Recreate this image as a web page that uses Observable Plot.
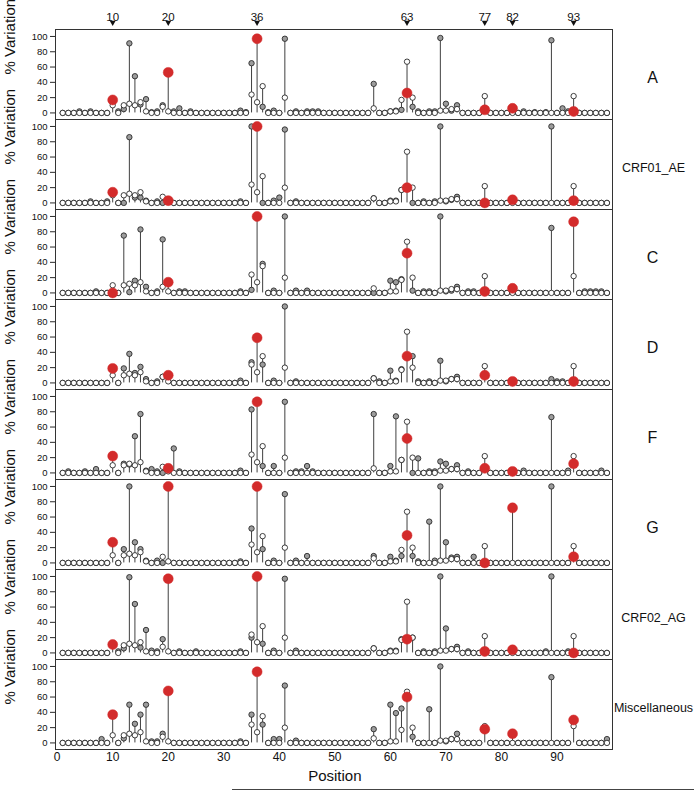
<!DOCTYPE html>
<html><head><meta charset="utf-8">
<script src="https://cdn.jsdelivr.net/npm/d3@7"></script>
<script src="https://cdn.jsdelivr.net/npm/@observablehq/plot@0.6"></script>
<style>
body{margin:0;background:#fff;}
#chart{position:relative;width:694px;height:792px;}
.deco{position:absolute;left:232px;top:789px;width:462px;height:1px;background:#444;}
</style>
</head><body><div id="chart"></div>
<script>
const panels = ["A", "CRF01_AE", "C", "D", "F", "G", "CRF02_AG", "Miscellaneous"];
const positions = d3.range(1, 100);
const keyPositions = [10, 20, 36, 63, 77, 82, 93];
const xTicks = [0, 10, 20, 30, 40, 50, 60, 70, 80, 90];
const yTicks = [0, 20, 40, 60, 80, 100];

// open circles (reference), positions 1..99
const reference = [
  0,0,0,0,0,0,0,0,0,10,
  0,10,12,10,14,2,0,0,8,2,
  0,0,0,0,0,0,0,0,0,0,
  0,0,0,0,24,14,35,0,0,0,
  20,0,0,0,0,0,0,0,0,0,
  0,0,0,0,0,0,6,0,0,2,
  2,17,67,20,0,0,0,0,3,3,
  5,5,0,0,0,0,22,0,0,0,
  0,0,0,0,0,0,0,0,0,0,
  0,0,22,0,0,0,0,0,0
];

const valuesA = [
  0,0,0,2,0,2,0,0,0,17,
  2,5,91,48,11,18,1,2,10,53,
  2,6,0,2,0,0,0,0,0,0,
  0,0,3,1,65,97,8,1,3,0,
  97,0,2,0,2,2,2,0,0,0,
  0,0,0,0,0,0,38,0,0,2,
  3,4,26,8,2,0,2,2,98,12,
  3,10,0,0,0,0,4,0,0,0,
  0,6,0,2,0,1,0,1,95,0,
  6,2,2,0,0,0,0,0,0
];
const valuesCRF01_AE = [
  0,0,0,0,0,2,0,0,2,14,
  0,0,86,7,7,3,0,2,0,3,
  0,0,0,0,0,0,0,0,0,0,
  0,0,2,0,100,100,0,0,3,7,
  96,0,2,0,0,0,0,0,0,0,
  0,0,0,0,0,0,6,0,0,3,
  3,17,20,0,0,2,0,2,100,2,
  4,8,0,0,0,0,0,0,0,0,
  0,4,0,0,0,0,0,0,100,0,
  0,0,3,0,0,0,0,0,0
];
const valuesC = [
  0,0,0,0,0,0,2,0,0,0,
  0,75,1,16,83,8,0,2,70,14,
  0,2,2,0,0,0,0,0,0,0,
  0,0,2,0,4,100,38,0,3,0,
  100,0,3,0,3,0,0,0,0,0,
  0,0,0,0,0,0,0,0,0,16,
  14,18,52,3,0,2,2,0,100,2,
  3,8,0,2,2,0,2,0,0,0,
  0,6,0,0,0,0,0,0,85,0,
  0,0,93,0,2,2,2,2,0
];
const valuesD = [
  0,0,0,0,0,0,0,0,0,19,
  0,19,38,13,21,5,0,2,8,10,
  0,0,0,0,0,0,0,0,0,0,
  0,0,3,0,27,59,24,0,3,0,
  100,0,2,0,0,0,0,0,0,0,
  0,0,0,0,0,0,6,2,0,16,
  3,18,35,35,2,0,2,0,29,2,
  5,8,0,0,0,0,10,0,0,0,
  0,2,0,0,0,0,0,0,5,2,
  2,0,2,0,0,0,0,0,0
];
const valuesF = [
  0,2,0,0,2,0,5,0,0,22,
  0,12,11,48,77,3,5,2,0,6,
  32,2,0,0,0,0,0,0,0,0,
  0,0,3,0,83,93,9,0,9,0,
  93,0,2,2,9,2,0,0,0,0,
  0,0,0,0,0,0,77,0,0,9,
  74,17,45,0,19,0,2,2,15,12,
  5,10,0,2,0,0,6,0,0,0,
  0,2,0,3,0,0,0,0,73,0,
  0,3,12,0,0,0,0,3,0
];
const valuesG = [
  0,0,0,0,0,0,0,0,0,27,
  0,18,100,27,18,3,0,3,0,100,
  0,0,0,0,0,0,0,0,0,0,
  0,0,2,0,45,100,18,0,3,0,
  90,0,3,0,9,0,0,0,0,0,
  0,0,0,0,0,0,9,0,0,8,
  3,9,36,9,2,0,54,3,100,27,
  7,8,0,0,8,0,0,0,0,0,
  0,72,0,0,0,0,0,0,100,0,
  0,0,8,0,0,0,0,0,0
];
const valuesCRF02_AG = [
  0,0,0,0,0,0,0,0,0,11,
  2,6,99,64,7,30,3,2,18,97,
  0,2,0,0,2,0,0,0,0,0,
  0,0,2,0,20,100,12,0,3,0,
  97,0,3,0,0,0,0,0,0,0,
  0,0,0,0,0,0,6,0,0,3,
  3,18,18,20,0,2,0,2,100,32,
  5,8,0,2,0,0,2,0,0,0,
  0,4,0,0,0,0,0,2,100,0,
  0,2,0,0,0,0,0,0,0
];
const valuesMisc = [
  0,0,0,0,0,0,0,5,0,37,
  0,6,50,25,37,50,2,2,12,68,
  0,0,0,0,0,0,0,0,0,0,
  0,0,2,0,37,93,24,0,5,5,
  75,0,3,0,0,0,0,0,0,0,
  0,0,0,0,0,0,18,0,0,50,
  39,45,60,8,0,0,44,0,100,2,
  5,12,0,0,0,0,18,0,0,0,
  0,12,0,0,0,0,0,0,86,0,
  0,0,30,0,0,0,0,0,5
];
const panelValues = [valuesA, valuesCRF01_AE, valuesC, valuesD, valuesF, valuesG, valuesCRF02_AG, valuesMisc];

const rows = [];
panels.forEach((p, i) => positions.forEach((pos, j) => rows.push({
  panel: p, pos, value: panelValues[i][j], ref: reference[j], key: keyPositions.includes(pos)
})));

const red = "#d32b2b";
const ink = "#2a2a2a";

const plot = Plot.plot({
  width: 694, height: 792,
  marginTop: 26, marginBottom: 41, marginLeft: 55, marginRight: 82,
  style: {fontFamily: "'Liberation Sans', Arial, Helvetica, sans-serif", background: "white", color: "#111"},
  x: {domain: [-0.3, 100]},
  y: {domain: [-8.6, 109.1]},
  fy: {domain: panels, padding: 0, axis: null},
  marks: [
    Plot.axisY({ticks: yTicks, tickSize: 5, tickPadding: 3, fontSize: 9.5, label: null, stroke: ink, fill: "#111"}),
    Plot.axisX({ticks: xTicks, tickSize: 0, tickPadding: 3, fontSize: 12, label: null, fill: "#111"}),
    Plot.ruleX(rows.filter(d => Math.max(d.value, d.ref) > 0), {
      x: "pos", y1: 0, y2: d => Math.max(d.value, d.ref), fy: "panel", stroke: ink, strokeWidth: 0.9
    }),
    Plot.dot(rows.filter(d => !d.key), {x: "pos", y: "value", fy: "panel", r: 2.7, fill: "#9c9c9c", stroke: ink, strokeWidth: 0.9}),
    Plot.dot(rows, {x: "pos", y: "ref", fy: "panel", r: 2.7, fill: "white", stroke: ink, strokeWidth: 0.9}),
    Plot.dot(rows.filter(d => d.key), {x: "pos", y: "value", fy: "panel", r: 5, fill: red, stroke: red, strokeWidth: 0.5}),
    Plot.frame({stroke: "#333", strokeWidth: 1}),
    Plot.text(panels, {fy: d => d, text: () => "% Variation", frameAnchor: "left", rotate: -90, dx: -45, fontSize: 15, fill: "#111"}),
    Plot.text(panels.filter(p => p.length === 1), {fy: d => d, text: d => d, frameAnchor: "right", dx: 40, dy: 3, textAnchor: "middle", fontSize: 16, fill: "#111"}),
    Plot.text(panels.filter(p => p.length > 1), {fy: d => d, text: d => d, frameAnchor: "right", dx: 41, dy: 3, textAnchor: "middle", fontSize: 12.5, fill: "#111"}),
    Plot.text(keyPositions, {x: d => d, fy: () => "A", text: d => String(d), frameAnchor: "top", dy: -16.5, fontSize: 11.5, fill: "#111"}),
    Plot.dot(keyPositions, {x: d => d, fy: () => "A", frameAnchor: "top", dy: -7, symbol: "triangle", rotate: 180, r: 2.2, fill: "#111"}),
    Plot.text(["Position"], {x: () => 50, fy: () => "Miscellaneous", text: d => d, frameAnchor: "bottom", dy: 31, fontSize: 15, fill: "#111"})
  ]
});
const chart = document.getElementById("chart");
chart.appendChild(plot);
const deco = document.createElement("div");
deco.className = "deco";
chart.appendChild(deco);
</script>
</body></html>
